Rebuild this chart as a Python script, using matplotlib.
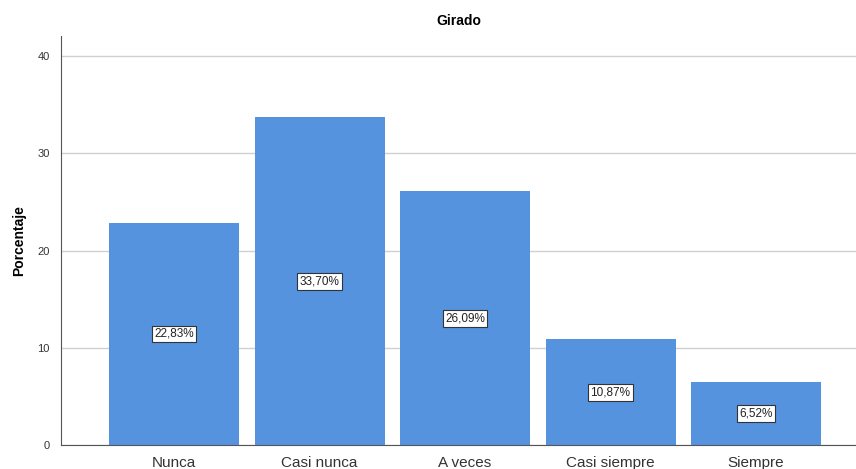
import matplotlib.pyplot as plt

plt.rcParams["font.family"] = ["Liberation Sans", "DejaVu Sans"]

categorias = ["Nunca", "Casi nunca", "A veces", "Casi siempre", "Siempre"]
porcentajes = [22.83, 33.70, 26.09, 10.87, 6.52]
etiquetas = ["22,83%", "33,70%", "26,09%", "10,87%", "6,52%"]

fig = plt.figure(figsize=(8.56, 4.69), dpi=100)
ax = fig.add_axes([61 / 856, 24 / 469, 795 / 856, 409 / 469])

x = range(len(categorias))
bars = ax.bar(x, porcentajes, width=0.894, color="#5593DF", zorder=2)

# etiquetas de porcentaje en el centro de cada barra
for b, txt in zip(bars, etiquetas):
    ax.text(b.get_x() + b.get_width() / 2, b.get_height() / 2, txt,
            ha="center", va="center", fontsize=8.5, color="#222222", zorder=3,
            bbox=dict(boxstyle="square,pad=0.2", fc="white", ec="#333333", lw=0.8))

ax.set_xlim(-0.777, 4.687)
ax.set_ylim(0, 42.06)
ax.set_yticks([0, 10, 20, 30, 40])
ax.set_xticks(list(x))
ax.set_xticklabels(categorias, fontsize=11, color="#333333")
ax.tick_params(axis="y", length=0, labelsize=8, labelcolor="#333333", pad=8)
ax.tick_params(axis="x", length=0, pad=8)
ax.grid(axis="y", color="#d0d0d0", lw=1, zorder=0)

for s in ["top", "right"]:
    ax.spines[s].set_visible(False)
ax.spines["left"].set_color("#555555")
ax.spines["bottom"].set_color("#555555")

ax.set_ylabel("Porcentaje", fontsize=10, fontweight="bold", labelpad=8)
ax.set_title("Girado", fontsize=10, fontweight="bold", pad=8)

plt.savefig("out.png", dpi=100)
